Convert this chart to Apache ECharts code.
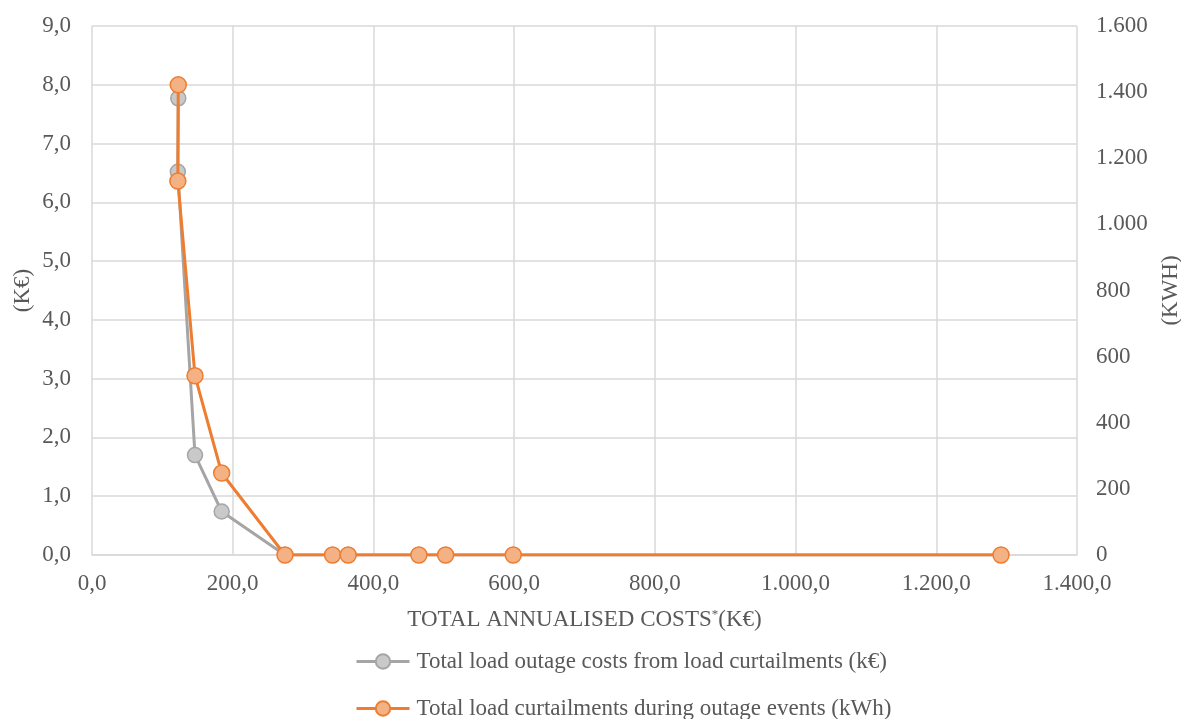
<!DOCTYPE html>
<html>
<head>
<meta charset="utf-8">
<script src="https://cdn.jsdelivr.net/npm/echarts@6/dist/echarts.min.js"></script>
<style>
  html, body { margin: 0; padding: 0; background: #fff; }
  #chart { width: 1181px; height: 719px; }
</style>
</head>
<body>
<div id="chart"></div>
<script>
// total annualised costs (k€), one per scenario
const annualCosts = [122.6, 122.0, 146.4, 184.3, 274.3, 341.9, 364.1, 464.6, 502.6, 598.7, 1292.0];
// left axis: outage costs (k€)
const outageCosts = [7.77, 6.52, 1.70, 0.74, 0, 0, 0, 0, 0, 0, 0];
// right axis: curtailed load (kWh)
const curtailments = [1422, 1131, 542, 248, 0, 0, 0, 0, 0, 0, 0];

const costName = "Total load outage costs from load curtailments (k€)";
const curtailName = "Total load curtailments during outage events (kWh)";

const FONT = "Liberation Serif";
const FS = 23;
const TXT = "#595959";
const GRID = "#d9d9d9";

// 1234.5 -> "1.234,5"
const euro = (v, dec) => {
    let s = v.toFixed(dec);
    let parts = s.split(".");
    parts[0] = parts[0].replace(/\B(?=(\d{3})+(?!\d))/g, ".");
    return parts.join(",");
};

const pairs = (xs, ys) => xs.map((x, i) => [x, ys[i]]);

// one legend per row, stacked like the original
const legendRow = (name, top) => ({
    orient: "horizontal",
    left: 350,
    top: top,
    itemWidth: 53,
    itemHeight: 18,
    lineStyle: { width: 3 },
    textStyle: { fontFamily: FONT, fontSize: FS, color: TXT, padding: [0, 0, 0, 2] },
    data: [name]
});

const chart = echarts.init(document.getElementById("chart"), null, { renderer: "canvas" });

const option = {
    animation: false,
    textStyle: { fontFamily: FONT },
    grid: { left: 92, right: 104, top: 26, bottom: 164, containLabel: false, outerBoundsMode: "none" },
    legend: [legendRow(costName, 645), legendRow(curtailName, 692)],
    xAxis: {
        type: "value",
        min: 0,
        max: 1400,
        interval: 200,
        name: "TOTAL ANNUALISED COSTS{s|*}(K€)",
        nameLocation: "middle",
        nameGap: 53,
        nameTextStyle: {
            fontFamily: FONT, fontSize: FS, color: TXT,
            rich: { s: { fontFamily: FONT, fontSize: 13, color: TXT, verticalAlign: "top", padding: [0, 0, 9, 0] } }
        },
        axisLine: { show: true, lineStyle: { color: GRID, width: 1.5 } },
        axisTick: { show: false },
        splitLine: { show: true, lineStyle: { color: GRID, width: 1.5 } },
        axisLabel: { fontFamily: FONT, fontSize: FS, color: TXT, margin: 17, formatter: v => euro(v, 1) }
    },
    yAxis: [
        {
            type: "value",
            min: 0,
            max: 9,
            interval: 1,
            name: "(K€)",
            nameLocation: "middle",
            nameRotate: 90,
            nameGap: 58,
            nameMoveOverlap: false,
            nameTextStyle: { fontFamily: FONT, fontSize: FS, color: TXT },
            axisLine: { show: false },
            axisTick: { show: false },
            splitLine: { show: true, lineStyle: { color: GRID, width: 1.5 } },
            axisLabel: { fontFamily: FONT, fontSize: FS, color: TXT, margin: 21, formatter: v => euro(v, 1) }
        },
        {
            type: "value",
            min: 0,
            max: 1600,
            interval: 200,
            name: "(KWH)",
            nameLocation: "middle",
            nameRotate: 90,
            nameGap: 82,
            nameTextStyle: { fontFamily: FONT, fontSize: FS, color: TXT },
            axisLine: { show: false },
            axisTick: { show: false },
            splitLine: { show: false },
            axisLabel: { fontFamily: FONT, fontSize: FS, color: TXT, margin: 19, formatter: v => euro(v, 0) }
        }
    ],
    series: [
        {
            name: costName,
            type: "line",
            yAxisIndex: 0,
            data: pairs(annualCosts, outageCosts),
            symbol: "circle",
            symbolSize: 15,
            lineStyle: { color: "#a5a5a5", width: 3 },
            itemStyle: { color: "#c9c9c9", borderColor: "#a5a5a5", borderWidth: 1.5 },
            z: 2
        },
        {
            name: curtailName,
            type: "line",
            yAxisIndex: 1,
            data: pairs(annualCosts, curtailments),
            symbol: "circle",
            symbolSize: 16,
            lineStyle: { color: "#ed7d31", width: 3 },
            itemStyle: { color: "#f4b183", borderColor: "#ed7d31", borderWidth: 1.5 },
            z: 3
        }
    ]
};

chart.setOption(option);
</script>
</body>
</html>
